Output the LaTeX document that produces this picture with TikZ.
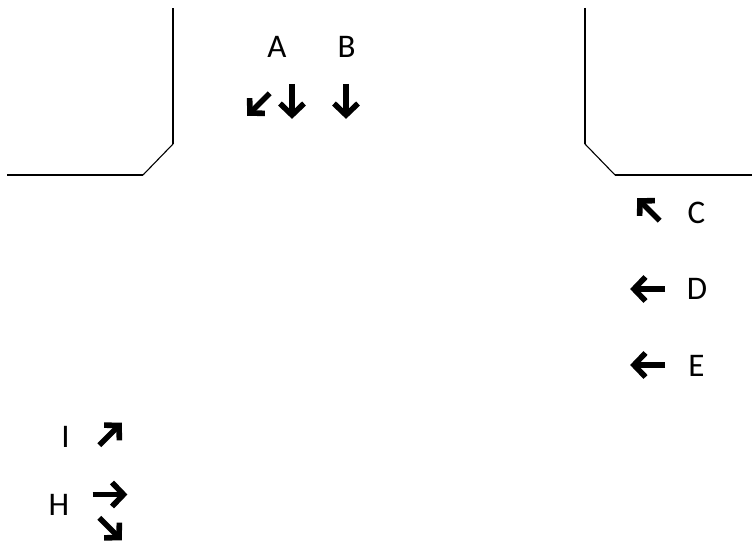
\documentclass[tikz,border=0pt]{standalone}
\usepackage{fontspec}
\setmainfont{Carlito}
\usetikzlibrary{arrows.meta}
\begin{document}
\begin{tikzpicture}[
  x=1pt, y=-1pt,
  curb/.style={line width=2pt, line join=miter},
  corner/.style={line width=1.1pt},
  lanelabel/.style={font=\fontsize{33}{33}\selectfont, inner sep=0pt},
  lanearrow/.pic={
    \draw[line width=5.6pt, line cap=butt] (-16,0) -- (13,0);
    \draw[line width=5.6pt, line join=miter, line cap=butt] (3.5,-12) -- (15,0) -- (3.5,12);},
]
  \useasboundingbox (0,0) rectangle (752,548);
  % kerbs of the crossing road
  \draw[curb] (7,175) -- (143,175);
  \draw[corner] (143,175) -- (173,144);
  \draw[curb] (173,144) -- (173,8);
  \draw[curb] (585,8) -- (585,144);
  \draw[corner] (585,144) -- (615,175);
  \draw[curb] (615,175) -- (752,175);
  % approach from the north
  \node[lanelabel] (A) at (277,46.5) {A};
  \node[lanelabel] (B) at (346.5,46.5) {B};
  \pic[rotate=225, scale=0.9] (sw) at (259.5,103.5) {lanearrow};
  \pic[rotate=270] (dnA) at (292,100) {lanearrow};
  \pic[rotate=270] (dnB) at (346,100) {lanearrow};
  % approach from the east
  \node[lanelabel] (C) at (696.5,212.5) {C};
  \node[lanelabel] (D) at (697,289) {D};
  \node[lanelabel] (E) at (696.5,366) {E};
  \pic[rotate=135, scale=0.9] (nw) at (649.5,210.5) {lanearrow};
  \pic[rotate=180] (lfD) at (649,289) {lanearrow};
  \pic[rotate=180] (lfE) at (649,365) {lanearrow};
  % approach from the west
  \node[lanelabel] (I) at (65.5,437) {I};
  \node[lanelabel] (H) at (59,505) {H};
  \pic[rotate=45, scale=0.9] (ne) at (109.5,435) {lanearrow};
  \pic[rotate=0] (rt) at (108.5,494.5) {lanearrow};
  \pic[rotate=315, scale=0.9] (se) at (109.5,528) {lanearrow};
\end{tikzpicture}
\end{document}
